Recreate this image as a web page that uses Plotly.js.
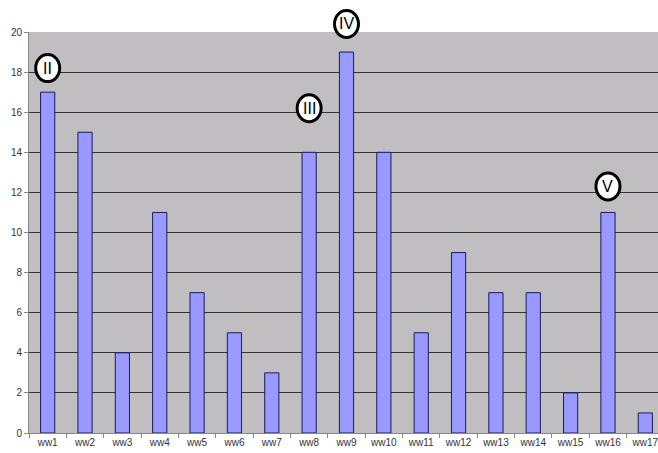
<!DOCTYPE html>
<html><head><meta charset="utf-8">
<script src="https://cdn.plot.ly/plotly-3.0.1.min.js"></script>
<style>html,body{margin:0;padding:0;overflow:hidden;background:#fff;width:658px;height:453px}</style>
</head><body><div id="chart" style="width:664px;height:453px"></div>
<script>
const categories = ["ww1","ww2","ww3","ww4","ww5","ww6","ww7","ww8","ww9","ww10","ww11","ww12","ww13","ww14","ww15","ww16","ww17"];
const values = [17,15,4,11,7,5,3,14,19,14,5,9,7,7,2,11,1];
const markCats = ["ww1","ww8","ww9","ww16"];
const markLabels = ["II","III","IV","V"];
// vertical placement of the circled labels, as a fraction of the plot height
const markPos = [0.91,0.81,1.02,0.615];

const shapes = markCats.map((c,i)=>({
  type:'circle', xref:'x', yref:'paper', xsizemode:'pixel', ysizemode:'pixel',
  xanchor:c, yanchor:markPos[i], x0:-12, x1:12, y0:-13.5, y1:13.5,
  line:{color:'#000', width:3}, fillcolor:'#fff', layer:'above'
}));
const annotations = markCats.map((c,i)=>({
  x:c, y:markPos[i], xref:'x', yref:'paper', text:markLabels[i], showarrow:false,
  xanchor:'center', yanchor:'middle',
  font:{family:'Liberation Sans, Arial', size:16, color:'#000'}
}));

Plotly.newPlot('chart',[{
  type:'bar', x:categories, y:values,
  marker:{color:'#9999FF', line:{color:'#1a1a5a', width:1}},
  hoverinfo:'skip'
}],{
  width:664, height:453,
  margin:{l:29,r:0,t:32,b:20},
  paper_bgcolor:'#fff', plot_bgcolor:'#C0BEC0',
  bargap:0.62,
  showlegend:false,
  xaxis:{type:'category', tickson:'boundaries', ticks:'outside', ticklen:4, tickcolor:'#888',
    showline:true, linecolor:'#888', linewidth:1, showgrid:false,
    tickfont:{family:'Liberation Sans, Arial', size:10, color:'#333'}},
  yaxis:{range:[0,20], dtick:2, ticks:'outside', ticklen:4, tickcolor:'#888',
    showline:true, linecolor:'#888', linewidth:1, gridcolor:'#333', gridwidth:1,
    zeroline:false,
    tickfont:{family:'Liberation Sans, Arial', size:10, color:'#333'}},
  shapes:shapes, annotations:annotations
},{staticPlot:true});
</script></body></html>
